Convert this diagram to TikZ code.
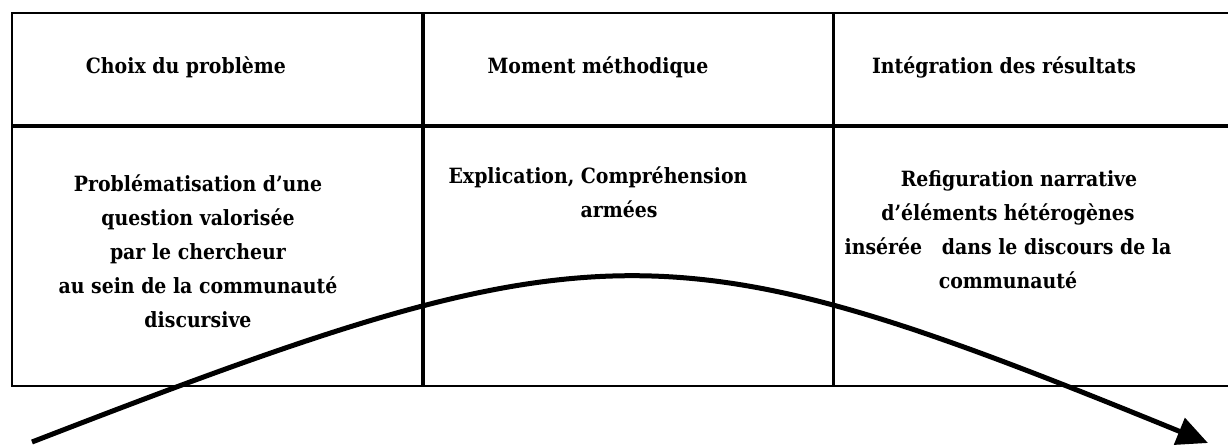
\documentclass[tikz,border=0pt]{standalone}
\usepackage{fontspec}
\setmainfont{DejaVu Serif Condensed}
\usetikzlibrary{
  arrows.meta,
  positioning
}
\definecolor{ink}{HTML}{000000}
\definecolor{paper}{HTML}{FFFFFF}
\tikzset{
  cell/.style={
    draw=ink,
    line width=1.8pt,
    inner sep=0pt
  },
  headcell/.style={
    cell,
    minimum height=112pt
  },
  bodycell/.style={
    cell,
    minimum height=259pt
  },
  headtext/.style={
    font=\bfseries\fontsize{21}{34}\selectfont,
    text=ink,
    inner sep=0pt
  },
  celltext/.style={
    headtext,
    align=center
  },
  bigarc/.style={
    -{Triangle[length=31pt,width=28pt]},
    line width=5pt,
    draw=ink
  }
}

\begin{document}
\begin{tikzpicture}[x=1pt, y=-1pt]
    \useasboundingbox[fill=paper] (0,0) rectangle (1228,445);
    \node[headcell, minimum width=410pt, anchor=north west] (choixcell) at (11,12) {};
    \node[headcell, minimum width=409pt, right=0pt of choixcell] (momentcell) {};
    \node[headcell, minimum width=404pt, right=0pt of momentcell] (resultcell) {};
    \node[bodycell, minimum width=410pt, below=0pt of choixcell] (problemcell) {};
    \node[bodycell, minimum width=409pt, below=0pt of momentcell] (methodcell) {};
    \node[bodycell, minimum width=404pt, below=0pt of resultcell] (narrativecell) {};
    \node[headtext] (choix) at (186,67) {Choix du problème};
    \node[headtext] (moment) at (598,67) {Moment méthodique};
    \node[headtext] (integration) at (1004,67) {Intégration des résultats};
    \node[celltext] (problem) at (198,251) {
      Problématisation d’une\\
      question valorisée\\
      par le chercheur\\
      au sein de la communauté\\
      discursive
    };
    \node[celltext] (method) at (598,192) {
      Explication, Compréhension\\
      \hspace*{42pt}armées
    };
    \node[celltext] (narrative) at (1008,230) {
      \hspace*{22pt}Refiguration narrative\\
      d’éléments hétérogènes\\
      insérée~~ dans le discours de la\\
      communauté
    };
    \coordinate (arcstart) at (32,442);
    \coordinate (arcend) at (1208,443);
    \draw[bigarc] (arcstart) .. controls (600,222) and (667,222) .. (arcend);
  \end{tikzpicture}
\end{document}
